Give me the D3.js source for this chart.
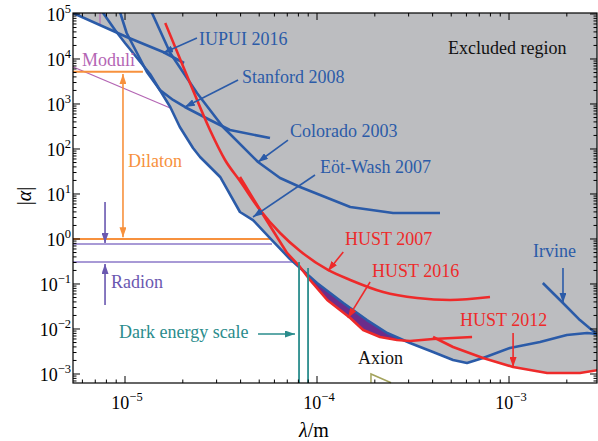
<!DOCTYPE html>
<html lang="en">
<head>
<meta charset="utf-8" />
<title>Yukawa constraints</title>
<script src="https://cdn.jsdelivr.net/npm/d3@7"></script>
<style>
body { margin: 0; background: #fff; }
svg text { font-family: "Liberation Serif", "DejaVu Serif", serif; }
</style>
</head>
<body>
<script>
// every curve is a list of [lambda (m), |alpha|]
var iupui2016 = [[5.0e-6, 1.2e5], [1.02e-5, 3.08e4], [1.58e-5, 1.43e4], [2.03e-5, 8.15e3]];
var stanford2008 = [[9.3e-6, 1.3e5], [1.02e-5, 3.78e4], [1.30e-5, 5.14e3], [1.52e-5, 2.05e3],
	[1.78e-5, 1.23e3], [2.05e-5, 858], [2.77e-5, 441], [3.52e-5, 264], [5.69e-5, 175]];
var colorado2003 = [[1.36e-5, 1.23e5], [1.72e-5, 1.36e4], [2.37e-5, 1.76e3], [3.24e-5, 308],
	[4.93e-5, 51.4], [6.42e-5, 22.7], [8.16e-5, 14.3], [1.49e-4, 5.14], [2.49e-4, 3.78], [4.37e-4, 3.78]];
var eotWash2007 = [[7.5e-6, 1.23e5], [8.87e-6, 4.41e4], [1.0e-5, 2.27e4], [1.35e-5, 4.64e3],
	[1.72e-5, 858], [1.93e-5, 308], [2.26e-5, 105], [2.46e-5, 66.4], [3.13e-5, 23.9], [3.97e-5, 3.98],
	[4.64e-5, 2.64], [5.69e-5, 1.05], [7.23e-5, 0.359], [1.0e-4, 0.105], [1.37e-4, 0.0379],
	[1.82e-4, 0.0158], [2.32e-4, 8.15e-3], [3.05e-4, 4.89e-3], [4.02e-4, 3.08e-3], [5.11e-4, 2.05e-3],
	[6.04e-4, 1.75e-3], [7.32e-4, 2.27e-3], [1.01e-3, 3.78e-3], [1.45e-3, 5.14e-3], [2.0e-3, 7.36e-3],
	[2.55e-3, 8.15e-3], [3.0e-3, 7.6e-3]];
var irvine = [[1.50e-3, 0.105], [1.91e-3, 0.0379], [2.34e-3, 0.0158], [3.0e-3, 6.5e-3]];
var hust2007 = [[1.62e-5, 6.31e4], [2.18e-5, 2.93e3], [2.77e-5, 264], [3.32e-5, 57],
	[3.97e-5, 19.4], [5.05e-5, 4.41], [6.42e-5, 1.36], [8.16e-5, 0.541], [1.14e-4, 0.205],
	[1.49e-4, 0.123], [2.21e-4, 0.0664], [3.32e-4, 0.0489], [4.93e-4, 0.0441], [7.96e-4, 0.0514]];
var hust2016 = [[3.97e-5, 23.9], [5.17e-5, 3.78], [6.98e-5, 0.489], [8.16e-5, 0.239], [9.19e-5, 0.123],
	[1.13e-4, 0.0441], [1.49e-4, 0.0176], [1.74e-4, 9.5e-3], [2.13e-4, 6.64e-3], [2.61e-4, 5.7e-3],
	[3.05e-4, 5.41e-3], [4.02e-4, 6.0e-3], [6.42e-4, 6.64e-3]];
var hust2012 = [[4.02e-4, 6.64e-3], [5.11e-4, 3.98e-3], [7.32e-4, 2.27e-3], [1.05e-3, 1.43e-3],
	[1.58e-3, 1.05e-3], [2.34e-3, 1.05e-3], [3.0e-3, 1.25e-3]];

// lower edge of the excluded region
var excludedEdge = [[5.0e-6, 1.2e5], [8.9e-6, 4.0e4], [1.0e-5, 2.27e4], [1.35e-5, 4.64e3],
	[1.72e-5, 858], [1.93e-5, 308], [2.26e-5, 105], [2.46e-5, 66.4], [3.13e-5, 23.9], [3.97e-5, 3.98],
	[4.64e-5, 2.64], [5.69e-5, 1.05], [7.23e-5, 0.359], [8.16e-5, 0.239], [9.19e-5, 0.123],
	[1.13e-4, 0.0441], [1.49e-4, 0.0176], [1.74e-4, 9.5e-3], [2.13e-4, 6.64e-3], [2.61e-4, 5.7e-3],
	[3.05e-4, 5.0e-3], [4.02e-4, 3.08e-3], [5.11e-4, 2.05e-3], [6.04e-4, 1.75e-3], [7.32e-4, 2.27e-3],
	[1.05e-3, 1.43e-3], [1.58e-3, 1.05e-3], [2.34e-3, 1.05e-3], [3.0e-3, 1.25e-3]];

var moduliLower = [[5.0e-6, 7.55e3], [1.72e-5, 815]];
var moduliUpper = [[7.41e-6, 1.2e5], [7.41e-6, 5.7e4], [1.06e-5, 2.93e4]];
var dilatonLevels = [5.2e3, 1.0];
var dilatonEnds = [1.24e-5, 5.69e-5];
var radionLevels = [0.774, 0.308];
var radionEnds = [5.83e-5, 7.5e-5];
var darkEnergy = [8.06e-5, 8.98e-5];
var darkEnergyTop = [0.308, 0.227];
var axion = [[1.91e-4, 6.4e-4], [1.91e-4, 1.0e-3], [2.43e-4, 6.4e-4]];

var w = 598, h = 441;
var plotL = 73, plotR = 597, plotT = 13, plotB = 383;

var x = d3.scaleLog().domain([5.36e-6, 2.872e-3]).range([plotL, plotR]);
var y = d3.scaleLog().domain([6.31e-4, 1.052e5]).range([plotB, plotT]);

var blue = "#2b5ba8", red = "#ee2a2a", orange = "#f7913d", teal = "#2a8c8c",
	moduliCol = "#b466b4", radionLine = "#a89ad6", radionCol = "#6a58b0";

var svg = d3.select("body").append("svg").attr("width", w).attr("height", h);

var defs = svg.append("defs");
defs.append("clipPath").attr("id", "plot")
	.append("rect").attr("x", plotL).attr("y", plotT)
	.attr("width", plotR - plotL).attr("height", plotB - plotT);

function marker(id, col) {
	defs.append("marker").attr("id", id)
		.attr("markerUnits", "userSpaceOnUse")
		.attr("markerWidth", 10).attr("markerHeight", 7)
		.attr("refX", 10).attr("refY", 3.5)
		.attr("orient", "auto-start-reverse")
		.append("path").attr("d", "M0,0L10,3.5L0,7Z").attr("fill", col);
}
marker("ah-blue", blue);
marker("ah-red", red);
marker("ah-orange", orange);
marker("ah-teal", teal);
marker("ah-radion", radionCol);

var line = d3.line().x(function(d) { return x(d[0]); }).y(function(d) { return y(d[1]); });
var g = svg.append("g").attr("clip-path", "url(#plot)");

// excluded region
var poly = excludedEdge.concat([[3.0e-3, 1.2e5]]);
g.append("path").attr("d", line(poly) + "Z").attr("fill", "#bcbdc0");

// band between Eot-Wash 2007 and HUST 2016
var up = eotWash2007.filter(function(d) { return d[0] >= 7.2e-5 && d[0] <= 3.1e-4; });
var lo = hust2016.filter(function(d) { return d[0] >= 7.2e-5 && d[0] <= 3.1e-4; }).reverse();
g.append("path").attr("d", line(up.concat(lo)) + "Z").attr("fill", "#6b2d8b");

// moduli
[moduliLower, moduliUpper].forEach(function(c) {
	g.append("path").attr("d", line(c)).attr("fill", "none")
		.attr("stroke", moduliCol).attr("stroke-width", 1.1);
});

// dilaton and radion levels
dilatonLevels.forEach(function(a, i) {
	g.append("line").attr("x1", plotL).attr("x2", x(dilatonEnds[i]))
		.attr("y1", y(a)).attr("y2", y(a))
		.attr("stroke", orange).attr("stroke-width", 1.8);
});
radionLevels.forEach(function(a, i) {
	g.append("line").attr("x1", plotL).attr("x2", x(radionEnds[i]))
		.attr("y1", y(a)).attr("y2", y(a))
		.attr("stroke", radionLine).attr("stroke-width", 1.8);
});

// blue experiments
[iupui2016, stanford2008, colorado2003, eotWash2007, irvine].forEach(function(c) {
	g.append("path").attr("d", line(c)).attr("fill", "none")
		.attr("stroke", blue).attr("stroke-width", 2.6).attr("stroke-linejoin", "round");
});
// HUST
var smooth = d3.line().curve(d3.curveMonotoneX)
	.x(function(d) { return x(d[0]); }).y(function(d) { return y(d[1]); });
g.append("path").attr("d", smooth(hust2007)).attr("fill", "none")
	.attr("stroke", red).attr("stroke-width", 2.6);
[hust2016, hust2012].forEach(function(c) {
	g.append("path").attr("d", line(c)).attr("fill", "none")
		.attr("stroke", red).attr("stroke-width", 2.6).attr("stroke-linejoin", "round");
});

// dark energy scale
darkEnergy.forEach(function(l, i) {
	g.append("line").attr("x1", x(l)).attr("x2", x(l))
		.attr("y1", plotB).attr("y2", y(darkEnergyTop[i]))
		.attr("stroke", teal).attr("stroke-width", 1.8);
});

// axion
svg.append("path").attr("d", line(axion)).attr("fill", "none")
	.attr("stroke", "#a3a35c").attr("stroke-width", 1.5);

// arrows
var arrows = [
	{ from: [2.37e-5, 2.93e4], to: [1.58e-5, 1.36e4], m: "ah-blue", c: blue },
	{ from: [3.88e-5, 3.42e3], to: [2.05e-5, 858], m: "ah-blue", c: blue },
	{ from: [7.06e-5, 158], to: [4.93e-5, 51.4], m: "ah-blue", c: blue },
	{ from: [9.76e-5, 26.4], to: [4.64e-5, 3.08], m: "ah-blue", c: blue },
	{ from: [1.91e-3, 0.227], to: [1.91e-3, 0.0379], m: "ah-blue", c: blue },
	{ from: [1.37e-4, 0.514], to: [1.14e-4, 0.195], m: "ah-red", c: red },
	{ from: [1.89e-4, 0.111], to: [1.45e-4, 0.0176], m: "ah-red", c: red },
	{ from: [1.05e-3, 8.15e-3], to: [1.05e-3, 1.43e-3], m: "ah-red", c: red },
	{ from: [4.93e-5, 7.74e-3], to: [7.68e-5, 7.74e-3], m: "ah-teal", c: teal },
	{ from: [7.87e-6, 6.64], to: [7.87e-6, 0.815], m: "ah-radion", c: radionCol },
	{ from: [7.87e-6, 0.0341], to: [7.87e-6, 0.28], m: "ah-radion", c: radionCol }
];
arrows.forEach(function(a) {
	svg.append("line").attr("x1", x(a.from[0])).attr("y1", y(a.from[1]))
		.attr("x2", x(a.to[0])).attr("y2", y(a.to[1]))
		.attr("stroke", a.c).attr("stroke-width", 1.6)
		.attr("marker-end", "url(#" + a.m + ")");
});
// dilaton double arrow
svg.append("line").attr("x1", x(9.76e-6)).attr("x2", x(9.76e-6))
	.attr("y1", y(4.64e3)).attr("y2", y(1.09))
	.attr("stroke", orange).attr("stroke-width", 1.6)
	.attr("marker-start", "url(#ah-orange)").attr("marker-end", "url(#ah-orange)");

// frame and ticks
svg.append("rect").attr("x", plotL).attr("y", plotT)
	.attr("width", plotR - plotL).attr("height", plotB - plotT)
	.attr("fill", "none").attr("stroke", "#000").attr("stroke-width", 1.2);

function isMajor(v) {
	var l = Math.log10(v);
	return Math.abs(l - Math.round(l)) < 1e-6;
}
var tk = svg.append("g").attr("stroke", "#000").attr("stroke-width", 1);
x.ticks().forEach(function(v) {
	var len = isMajor(v) ? 7 : 3.5, px = x(v);
	tk.append("line").attr("x1", px).attr("x2", px).attr("y1", plotB).attr("y2", plotB - len);
	tk.append("line").attr("x1", px).attr("x2", px).attr("y1", plotT).attr("y2", plotT + len);
});
y.ticks().forEach(function(v) {
	var len = isMajor(v) ? 7 : 3.5, py = y(v);
	tk.append("line").attr("x1", plotL).attr("x2", plotL + len).attr("y1", py).attr("y2", py);
	tk.append("line").attr("x1", plotR).attr("x2", plotR - len).attr("y1", py).attr("y2", py);
});

function powLabel(sel, e) {
	sel.append("tspan").text("10");
	sel.append("tspan").attr("dy", -8).attr("font-size", 12.5)
		.text(e < 0 ? "\u2212" + (-e) : String(e));
}
x.ticks().filter(isMajor).forEach(function(v) {
	var t = svg.append("text").attr("x", x(v) + 2).attr("y", 409)
		.attr("text-anchor", "middle").attr("font-size", 18);
	powLabel(t, Math.round(Math.log10(v)));
});
y.ticks().filter(isMajor).forEach(function(v) {
	var t = svg.append("text").attr("x", 71).attr("y", y(v) + 7)
		.attr("text-anchor", "end").attr("font-size", 18);
	powLabel(t, Math.round(Math.log10(v)));
});

// axis titles
var xt = svg.append("text").attr("x", 314).attr("y", 437)
	.attr("text-anchor", "middle").attr("font-size", 20);
xt.append("tspan").attr("font-style", "italic").text("\u03bb");
xt.append("tspan").text("/m");
var yt = svg.append("text").attr("transform", "translate(31,196) rotate(-90)")
	.attr("text-anchor", "middle").attr("font-size", 20);
yt.append("tspan").text("|");
yt.append("tspan").attr("font-style", "italic").text("\u03b1");
yt.append("tspan").text("|");

// labels
var labels = [
	{ t: "Excluded region", x: 448, y: 54, c: "#111" },
	{ t: "IUPUI 2016", x: 199, y: 45, c: blue },
	{ t: "Stanford 2008", x: 242, y: 83, c: blue },
	{ t: "Colorado 2003", x: 290, y: 137, c: blue },
	{ t: "E\u00f6t-Wash 2007", x: 320, y: 173, c: blue },
	{ t: "Irvine", x: 533, y: 257, c: blue },
	{ t: "HUST 2007", x: 345, y: 245, c: red },
	{ t: "HUST 2016", x: 372, y: 277, c: red },
	{ t: "HUST 2012", x: 460, y: 326, c: red },
	{ t: "Axion", x: 358, y: 364, c: "#111" },
	{ t: "Dark energy scale", x: 119, y: 338, c: teal },
	{ t: "Radion", x: 111, y: 288, c: radionCol },
	{ t: "Dilaton", x: 128, y: 167, c: orange },
	{ t: "Moduli", x: 82, y: 66, c: moduliCol }
];
labels.forEach(function(l) {
	svg.append("text").attr("x", l.x).attr("y", l.y)
		.attr("font-size", 18).attr("fill", l.c).text(l.t);
});
</script>
</body>
</html>
